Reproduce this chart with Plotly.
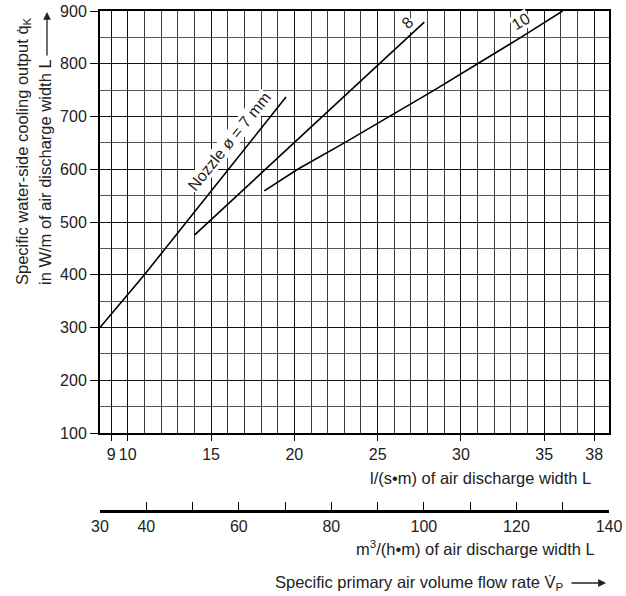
import plotly.graph_objects as go

# ---- data ----
nozzle7_x = [8.33, 11.0, 19.5]
nozzle7_y = [300, 400, 737]
nozzle8_x = [14.0, 25.1, 27.8]
nozzle8_y = [475, 799, 879]
nozzle10_x = [18.2, 20.2, 23.0, 25.7, 28.4, 31.0, 33.6, 36.1]
nozzle10_y = [559, 600, 650, 700, 750, 800, 850, 900]

x_ticks = [9, 10, 15, 20, 25, 30, 35, 38]
y_ticks = [100, 200, 300, 400, 500, 600, 700, 800, 900]
m3h_ticks = [30, 40, 50, 60, 70, 80, 90, 100, 110, 120, 130, 140]
m3h_labels = ["30", "40", "", "60", "", "80", "", "100", "", "120", "", "140"]

# body margin is removed by post_script, so the figure starts at the page's (0, 0)
OFF = 0
W, H = 626 - OFF, 596 - OFF
# plot area in page pixels: left 100, right 609, top 11, paper bottom 540
ML, MT = 100 - OFF, 11 - OFF
MR = W - (609 - OFF)
MB = H - (540 - OFF)
PW, PH = W - ML - MR, H - MT - MB


def px(x):
    return (x - OFF - ML) / PW


def py(y):
    return (H - MB - (y - OFF)) / PH


plot_bottom = 433
y_dom0 = py(plot_bottom)

FONT = "Liberation Sans, Arial, sans-serif"
TXT = "#222222"

fig = go.Figure()
for xs, ys in [(nozzle7_x, nozzle7_y), (nozzle8_x, nozzle8_y), (nozzle10_x, nozzle10_y)]:
    fig.add_trace(go.Scatter(x=xs, y=ys, mode="lines", line=dict(color="black", width=1.6),
                             hoverinfo="skip", showlegend=False, cliponaxis=False))

# carrier trace for the m3/(h*m) scale
fig.add_trace(go.Scatter(x=m3h_ticks, y=[None] * len(m3h_ticks), xaxis="x2", mode="lines",
                         hoverinfo="skip", showlegend=False))

fig.update_layout(
    width=W, height=H,
    margin=dict(l=ML, r=MR, t=MT, b=MB, autoexpand=False),
    paper_bgcolor="white", plot_bgcolor="white",
    font=dict(family=FONT, color=TXT),
    xaxis=dict(
        range=[30 / 3.6, 140 / 3.6], tickvals=x_ticks, ticktext=[str(v) for v in x_ticks],
        showgrid=True, gridcolor="#111111", gridwidth=1.3,
        minor=dict(dtick=1, tick0=0, showgrid=True, gridcolor="#3c3c3c", gridwidth=1.2, ticks=""),
        ticks="outside", ticklen=6, tickwidth=1.2, tickcolor="black",
        showline=True, linecolor="black", linewidth=2, mirror=True,
        tickfont=dict(size=16, color=TXT), zeroline=False, anchor="y", automargin=False,
        ticklabeloverflow="allow",
    ),
    yaxis=dict(
        range=[100, 900], tickvals=y_ticks, domain=[y_dom0, 1],
        showgrid=True, gridcolor="#111111", gridwidth=1.3,
        minor=dict(dtick=50, showgrid=True, gridcolor="#555555", gridwidth=1.2, ticks=""),
        ticks="outside", ticklen=8, tickwidth=1.2, tickcolor="black",
        showline=True, linecolor="black", linewidth=2, mirror=True,
        tickfont=dict(size=16, color=TXT), zeroline=False, automargin=False,
        ticklabeloverflow="allow",
    ),
    xaxis2=dict(
        range=[30, 140], overlaying="x", anchor="free", position=py(510.7), side="bottom",
        tickvals=m3h_ticks, ticktext=m3h_labels, showgrid=False, zeroline=False,
        ticks="inside", ticklen=8, tickwidth=1.2, tickcolor="black",
        showline=True, linecolor="black", linewidth=2.5,
        tickfont=dict(size=16, color=TXT), automargin=False, ticklabeloverflow="allow",
    ),
)

ann = []
# curve labels
ann.append(dict(x=16.1, y=652, xref="x", yref="y", text="Nozzle ø = 7 mm", textangle=-51,
                showarrow=False, bgcolor="white", font=dict(size=16, color=TXT), borderpad=0))
ann.append(dict(x=26.8, y=878, xref="x", yref="y", text="8", textangle=-43,
                showarrow=False, bgcolor="white", font=dict(size=16, color=TXT), borderpad=0))
ann.append(dict(x=33.6, y=880, xref="x", yref="y", text="10", textangle=-31,
                showarrow=False, bgcolor="white", font=dict(size=16, color=TXT), borderpad=0))

TS = 16.5
# axis titles
ann.append(dict(x=px(23), y=py(287), xref="paper", yref="paper", xanchor="center", yanchor="bottom",
                text="Specific water-side cooling output q\u0307<sub>K</sub>", textangle=-90,
                showarrow=False, font=dict(size=TS, color=TXT)))
ann.append(dict(x=px(45), y=py(287), xref="paper", yref="paper", xanchor="center", yanchor="bottom",
                text="in W/m of air discharge width L", textangle=-90,
                showarrow=False, font=dict(size=TS, color=TXT)))
ann.append(dict(x=px(47), y=py(12), xref="paper", yref="paper", text="", showarrow=True,
                ax=0, ay=45, arrowhead=2, arrowsize=1.2, arrowwidth=1.3, arrowcolor=TXT))

ann.append(dict(x=px(593), y=py(478), xref="paper", yref="paper", xanchor="right", yanchor="middle",
                text="l/(s•m) of air discharge width L", showarrow=False, font=dict(size=TS, color=TXT)))
ann.append(dict(x=px(597), y=py(548), xref="paper", yref="paper", xanchor="right", yanchor="middle",
                text="m<sup>3</sup>/(h•m) of air discharge width L", showarrow=False,
                font=dict(size=TS, color=TXT)))
ann.append(dict(x=px(566), y=py(583), xref="paper", yref="paper", xanchor="right", yanchor="middle",
                text="Specific primary air volume flow rate V\u0307<sub>P</sub>", showarrow=False,
                font=dict(size=TS, color=TXT)))
ann.append(dict(x=px(606), y=py(583), xref="paper", yref="paper", text="", showarrow=True,
                ax=-36, ay=0, arrowhead=2, arrowsize=1.2, arrowwidth=1.3, arrowcolor=TXT))

fig.update_layout(annotations=ann)
fig.write_html("out.html", config={"displayModeBar": False},
               post_script="document.body.style.margin='0px';")
